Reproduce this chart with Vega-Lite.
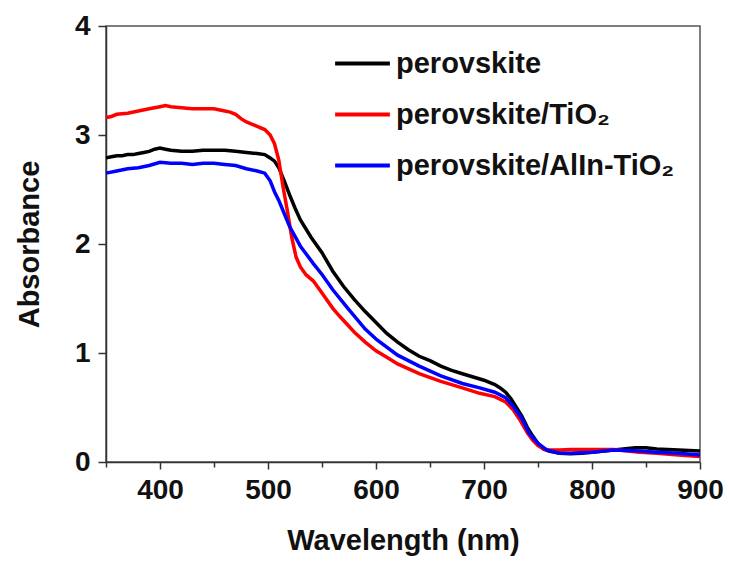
{
  "$schema": "https://vega.github.io/schema/vega-lite/v6.json",
  "autosize": {"type": "none"},
  "width": 594,
  "height": 436,
  "padding": {"left": 106, "top": 26, "right": 29, "bottom": 100},
  "background": "white",
  "config": {
    "view": {"stroke": "#555", "strokeWidth": 1.5},
    "font": "Liberation Sans"
  },
  "data": {"values": [
    {"s":"perovskite","w":350,"a":2.79},{"s":"perovskite","w":355,"a":2.80},{"s":"perovskite","w":360,"a":2.81},{"s":"perovskite","w":365,"a":2.81},{"s":"perovskite","w":370,"a":2.82},{"s":"perovskite","w":375,"a":2.82},{"s":"perovskite","w":380,"a":2.83},{"s":"perovskite","w":385,"a":2.84},{"s":"perovskite","w":390,"a":2.85},{"s":"perovskite","w":395,"a":2.87},{"s":"perovskite","w":400,"a":2.88},{"s":"perovskite","w":405,"a":2.87},{"s":"perovskite","w":410,"a":2.86},{"s":"perovskite","w":420,"a":2.85},{"s":"perovskite","w":430,"a":2.85},{"s":"perovskite","w":440,"a":2.86},{"s":"perovskite","w":450,"a":2.86},{"s":"perovskite","w":460,"a":2.86},{"s":"perovskite","w":470,"a":2.85},{"s":"perovskite","w":480,"a":2.84},{"s":"perovskite","w":490,"a":2.83},{"s":"perovskite","w":497,"a":2.82},{"s":"perovskite","w":502,"a":2.79},{"s":"perovskite","w":506,"a":2.76},{"s":"perovskite","w":510,"a":2.70},{"s":"perovskite","w":515,"a":2.58},{"s":"perovskite","w":520,"a":2.45},{"s":"perovskite","w":525,"a":2.33},{"s":"perovskite","w":530,"a":2.22},{"s":"perovskite","w":540,"a":2.06},{"s":"perovskite","w":550,"a":1.92},{"s":"perovskite","w":560,"a":1.75},{"s":"perovskite","w":570,"a":1.61},{"s":"perovskite","w":580,"a":1.49},{"s":"perovskite","w":590,"a":1.38},{"s":"perovskite","w":600,"a":1.28},{"s":"perovskite","w":610,"a":1.18},{"s":"perovskite","w":620,"a":1.10},{"s":"perovskite","w":630,"a":1.03},{"s":"perovskite","w":640,"a":0.97},{"s":"perovskite","w":650,"a":0.93},{"s":"perovskite","w":660,"a":0.88},{"s":"perovskite","w":670,"a":0.84},{"s":"perovskite","w":680,"a":0.81},{"s":"perovskite","w":690,"a":0.78},{"s":"perovskite","w":700,"a":0.75},{"s":"perovskite","w":710,"a":0.71},{"s":"perovskite","w":715,"a":0.68},{"s":"perovskite","w":720,"a":0.64},{"s":"perovskite","w":725,"a":0.58},{"s":"perovskite","w":730,"a":0.50},{"s":"perovskite","w":735,"a":0.42},{"s":"perovskite","w":740,"a":0.32},{"s":"perovskite","w":745,"a":0.24},{"s":"perovskite","w":750,"a":0.17},{"s":"perovskite","w":755,"a":0.12},{"s":"perovskite","w":760,"a":0.10},{"s":"perovskite","w":770,"a":0.08},{"s":"perovskite","w":780,"a":0.075},{"s":"perovskite","w":790,"a":0.08},{"s":"perovskite","w":800,"a":0.09},{"s":"perovskite","w":820,"a":0.11},{"s":"perovskite","w":840,"a":0.13},{"s":"perovskite","w":850,"a":0.13},{"s":"perovskite","w":860,"a":0.12},{"s":"perovskite","w":880,"a":0.11},{"s":"perovskite","w":900,"a":0.10},

    {"s":"perovskite/TiO₂","w":350,"a":3.16},{"s":"perovskite/TiO₂","w":355,"a":3.17},{"s":"perovskite/TiO₂","w":360,"a":3.19},{"s":"perovskite/TiO₂","w":370,"a":3.20},{"s":"perovskite/TiO₂","w":380,"a":3.22},{"s":"perovskite/TiO₂","w":390,"a":3.24},{"s":"perovskite/TiO₂","w":400,"a":3.26},{"s":"perovskite/TiO₂","w":405,"a":3.27},{"s":"perovskite/TiO₂","w":410,"a":3.26},{"s":"perovskite/TiO₂","w":420,"a":3.25},{"s":"perovskite/TiO₂","w":430,"a":3.24},{"s":"perovskite/TiO₂","w":440,"a":3.24},{"s":"perovskite/TiO₂","w":450,"a":3.24},{"s":"perovskite/TiO₂","w":460,"a":3.22},{"s":"perovskite/TiO₂","w":465,"a":3.21},{"s":"perovskite/TiO₂","w":470,"a":3.19},{"s":"perovskite/TiO₂","w":475,"a":3.15},{"s":"perovskite/TiO₂","w":480,"a":3.12},{"s":"perovskite/TiO₂","w":490,"a":3.08},{"s":"perovskite/TiO₂","w":497,"a":3.05},{"s":"perovskite/TiO₂","w":502,"a":3.00},{"s":"perovskite/TiO₂","w":506,"a":2.92},{"s":"perovskite/TiO₂","w":510,"a":2.77},{"s":"perovskite/TiO₂","w":514,"a":2.52},{"s":"perovskite/TiO₂","w":518,"a":2.30},{"s":"perovskite/TiO₂","w":522,"a":2.06},{"s":"perovskite/TiO₂","w":526,"a":1.88},{"s":"perovskite/TiO₂","w":530,"a":1.79},{"s":"perovskite/TiO₂","w":535,"a":1.72},{"s":"perovskite/TiO₂","w":542,"a":1.66},{"s":"perovskite/TiO₂","w":550,"a":1.55},{"s":"perovskite/TiO₂","w":560,"a":1.41},{"s":"perovskite/TiO₂","w":567,"a":1.33},{"s":"perovskite/TiO₂","w":580,"a":1.19},{"s":"perovskite/TiO₂","w":590,"a":1.10},{"s":"perovskite/TiO₂","w":600,"a":1.02},{"s":"perovskite/TiO₂","w":610,"a":0.96},{"s":"perovskite/TiO₂","w":620,"a":0.90},{"s":"perovskite/TiO₂","w":640,"a":0.81},{"s":"perovskite/TiO₂","w":660,"a":0.74},{"s":"perovskite/TiO₂","w":680,"a":0.68},{"s":"perovskite/TiO₂","w":696,"a":0.63},{"s":"perovskite/TiO₂","w":710,"a":0.60},{"s":"perovskite/TiO₂","w":720,"a":0.55},{"s":"perovskite/TiO₂","w":727,"a":0.48},{"s":"perovskite/TiO₂","w":733,"a":0.39},{"s":"perovskite/TiO₂","w":740,"a":0.27},{"s":"perovskite/TiO₂","w":745,"a":0.20},{"s":"perovskite/TiO₂","w":750,"a":0.15},{"s":"perovskite/TiO₂","w":755,"a":0.12},{"s":"perovskite/TiO₂","w":760,"a":0.11},{"s":"perovskite/TiO₂","w":770,"a":0.11},{"s":"perovskite/TiO₂","w":780,"a":0.115},{"s":"perovskite/TiO₂","w":800,"a":0.115},{"s":"perovskite/TiO₂","w":820,"a":0.115},{"s":"perovskite/TiO₂","w":844,"a":0.09},{"s":"perovskite/TiO₂","w":860,"a":0.08},{"s":"perovskite/TiO₂","w":880,"a":0.065},{"s":"perovskite/TiO₂","w":900,"a":0.05},

    {"s":"perovskite/AlIn-TiO₂","w":350,"a":2.65},{"s":"perovskite/AlIn-TiO₂","w":360,"a":2.67},{"s":"perovskite/AlIn-TiO₂","w":370,"a":2.69},{"s":"perovskite/AlIn-TiO₂","w":380,"a":2.70},{"s":"perovskite/AlIn-TiO₂","w":390,"a":2.72},{"s":"perovskite/AlIn-TiO₂","w":400,"a":2.75},{"s":"perovskite/AlIn-TiO₂","w":410,"a":2.74},{"s":"perovskite/AlIn-TiO₂","w":420,"a":2.74},{"s":"perovskite/AlIn-TiO₂","w":430,"a":2.73},{"s":"perovskite/AlIn-TiO₂","w":440,"a":2.74},{"s":"perovskite/AlIn-TiO₂","w":450,"a":2.74},{"s":"perovskite/AlIn-TiO₂","w":460,"a":2.73},{"s":"perovskite/AlIn-TiO₂","w":470,"a":2.72},{"s":"perovskite/AlIn-TiO₂","w":480,"a":2.69},{"s":"perovskite/AlIn-TiO₂","w":490,"a":2.67},{"s":"perovskite/AlIn-TiO₂","w":497,"a":2.65},{"s":"perovskite/AlIn-TiO₂","w":502,"a":2.58},{"s":"perovskite/AlIn-TiO₂","w":506,"a":2.48},{"s":"perovskite/AlIn-TiO₂","w":510,"a":2.40},{"s":"perovskite/AlIn-TiO₂","w":515,"a":2.28},{"s":"perovskite/AlIn-TiO₂","w":520,"a":2.16},{"s":"perovskite/AlIn-TiO₂","w":530,"a":1.98},{"s":"perovskite/AlIn-TiO₂","w":542,"a":1.82},{"s":"perovskite/AlIn-TiO₂","w":550,"a":1.72},{"s":"perovskite/AlIn-TiO₂","w":560,"a":1.58},{"s":"perovskite/AlIn-TiO₂","w":573,"a":1.42},{"s":"perovskite/AlIn-TiO₂","w":590,"a":1.22},{"s":"perovskite/AlIn-TiO₂","w":601,"a":1.12},{"s":"perovskite/AlIn-TiO₂","w":620,"a":0.98},{"s":"perovskite/AlIn-TiO₂","w":640,"a":0.88},{"s":"perovskite/AlIn-TiO₂","w":660,"a":0.79},{"s":"perovskite/AlIn-TiO₂","w":680,"a":0.72},{"s":"perovskite/AlIn-TiO₂","w":696,"a":0.68},{"s":"perovskite/AlIn-TiO₂","w":710,"a":0.64},{"s":"perovskite/AlIn-TiO₂","w":720,"a":0.59},{"s":"perovskite/AlIn-TiO₂","w":727,"a":0.51},{"s":"perovskite/AlIn-TiO₂","w":735,"a":0.40},{"s":"perovskite/AlIn-TiO₂","w":742,"a":0.26},{"s":"perovskite/AlIn-TiO₂","w":750,"a":0.17},{"s":"perovskite/AlIn-TiO₂","w":758,"a":0.11},{"s":"perovskite/AlIn-TiO₂","w":770,"a":0.08},{"s":"perovskite/AlIn-TiO₂","w":780,"a":0.08},{"s":"perovskite/AlIn-TiO₂","w":800,"a":0.09},{"s":"perovskite/AlIn-TiO₂","w":820,"a":0.11},{"s":"perovskite/AlIn-TiO₂","w":844,"a":0.10},{"s":"perovskite/AlIn-TiO₂","w":860,"a":0.09},{"s":"perovskite/AlIn-TiO₂","w":880,"a":0.08},{"s":"perovskite/AlIn-TiO₂","w":900,"a":0.065}
  ]},
  "mark": {"type": "line", "strokeWidth": 3.5},
  "encoding": {
    "x": {
      "field": "w", "type": "quantitative",
      "scale": {"domain": [350, 900], "nice": false, "zero": false},
      "axis": {
        "title": "Wavelength (nm)",
        "values": [350, 400, 450, 500, 550, 600, 650, 700, 750, 800, 850, 900],
        "labelExpr": "datum.value % 100 === 0 ? datum.label : ''",
        "format": "d",
        "grid": false,
        "domainColor": "#333", "domainWidth": 1.5,
        "tickColor": "#333", "tickWidth": 1.5,
        "tickSize": {"condition": {"test": "datum.value % 100 === 0", "value": 7}, "value": 5},
        "labelFont": "Liberation Sans", "labelFontWeight": "bold", "labelFontSize": 28, "labelColor": "#111",
        "labelPadding": 7, "labelFlush": false, "labelOverlap": false,
        "titleFont": "Liberation Sans", "titleFontWeight": "bold", "titleFontSize": 29, "titleColor": "#111",
        "titlePadding": 22
      }
    },
    "y": {
      "field": "a", "type": "quantitative",
      "scale": {"domain": [0, 4], "nice": false},
      "axis": {
        "title": "Absorbance",
        "values": [0, 0.5, 1, 1.5, 2, 2.5, 3, 3.5, 4],
        "format": "d",
        "labelExpr": "datum.value % 1 === 0 ? datum.label : ''",
        "grid": false,
        "domainColor": "#333", "domainWidth": 1.5,
        "tickColor": "#333", "tickWidth": 1.5,
        "tickSize": {"condition": {"test": "datum.value % 1 === 0", "value": 8}, "value": 5},
        "labelFont": "Liberation Sans", "labelFontWeight": "bold", "labelFontSize": 28, "labelColor": "#111",
        "labelPadding": 8, "labelFlush": false, "labelOverlap": false,
        "titleFont": "Liberation Sans", "titleFontWeight": "bold", "titleFontSize": 29, "titleColor": "#111",
        "titlePadding": 30
      }
    },
    "color": {
      "field": "s", "type": "nominal",
      "scale": {
        "domain": ["perovskite", "perovskite/TiO₂", "perovskite/AlIn-TiO₂"],
        "range": ["#000000", "#ff0000", "#0000ff"]
      },
      "legend": {
        "title": null,
        "orient": "none",
        "legendX": 227,
        "legendY": 8,
        "padding": 0,
        "symbolType": "stroke",
        "symbolStrokeWidth": 4,
        "symbolSize": 3000,
        "labelFont": "Liberation Sans", "labelFontWeight": "bold", "labelFontSize": 29, "labelColor": "#111",
        "labelOffset": 4,
        "rowPadding": 6,
        "labelLimit": 400
      }
    }
  }
}
